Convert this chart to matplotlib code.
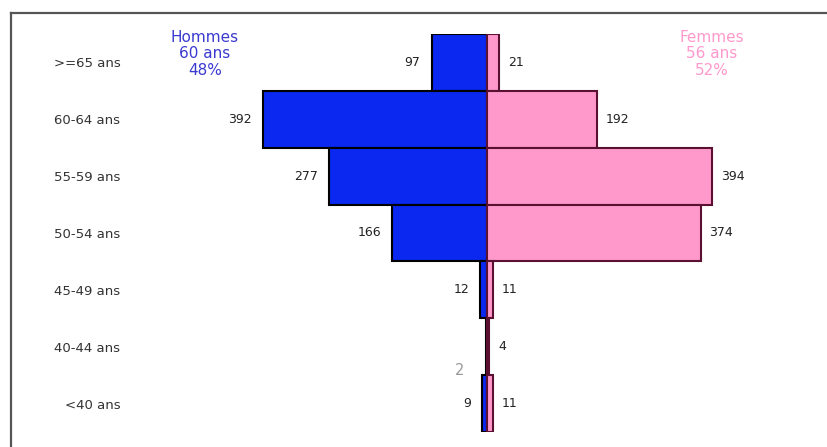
import matplotlib
matplotlib.use("Agg")
import matplotlib.pyplot as plt
from matplotlib.lines import Line2D

ages = [">=65 ans", "60-64 ans", "55-59 ans", "50-54 ans", "45-49 ans", "40-44 ans", "<40 ans"]
hommes = [97, 392, 277, 166, 12, 2, 9]
femmes = [21, 192, 394, 374, 11, 4, 11]
titre_h = "Hommes\n60 ans\n48%"
titre_f = "Femmes\n56 ans\n52%"

bleu = "#0a28f0"
rose = "#ff99cc"

W, H = 827, 447
fig = plt.figure(figsize=(W / 100, H / 100), dpi=100)
fig.patch.set_facecolor("white")

# axes placed in pixels: centre line at x=487, bars from y=34 to y=432
left_px, right_px = 130, 815
top_px, bot_px = 34, 432
ax = fig.add_axes([left_px / W, 1 - bot_px / H, (right_px - left_px) / W, (bot_px - top_px) / H])
scale = 1.75  # value per pixel
ax.set_xlim(-(487 - left_px) * scale, (right_px - 487) * scale)
ax.set_ylim(len(ages) - 0.5, -0.5)

pos = list(range(len(ages)))
ax.barh(pos, [-v for v in hommes], height=1.0, color=bleu, edgecolor="black", linewidth=1.5)
ax.barh(pos, femmes, height=1.0, color=rose, edgecolor="#5a1030", linewidth=1.5)

off = 11 * scale
for i, v in enumerate(hommes):
    if ages[i] == "40-44 ans":
        # this label sits lower and in grey in the original
        ax.text(-22 * scale - v, i + 0.42, str(v), ha="right", va="center", fontsize=10.5, color="#999999")
    else:
        ax.text(-v - off, i, str(v), ha="right", va="center", fontsize=9, color="#222222")
for i, v in enumerate(femmes):
    ax.text(v + off * 0.8, i, str(v), ha="left", va="center", fontsize=9, color="#222222")

ax.set_yticks(pos)
ax.set_yticklabels(ages, fontsize=9.5, color="#333333")
ax.tick_params(axis="y", length=0, pad=7)
ax.set_xticks([])
for s in ax.spines.values():
    s.set_visible(False)
ax.patch.set_alpha(0)

fig.text(205 / W, 1 - 54 / H, titre_h, ha="center", va="center", fontsize=11,
         color="#3a3ad0", linespacing=1.1)
fig.text(712 / W, 1 - 54 / H, titre_f, ha="center", va="center", fontsize=11,
         color=rose, linespacing=1.1)

# frame (only top and left edges are visible in the picture)
fig.add_artist(Line2D([10.5 / W, 1], [1 - 12.5 / H, 1 - 12.5 / H], transform=fig.transFigure,
                      color="#555555", linewidth=1.6))
fig.add_artist(Line2D([10.5 / W, 10.5 / W], [1 - 12.5 / H, 0], transform=fig.transFigure,
                      color="#555555", linewidth=1.6))

fig.savefig("out.png", dpi=100)
